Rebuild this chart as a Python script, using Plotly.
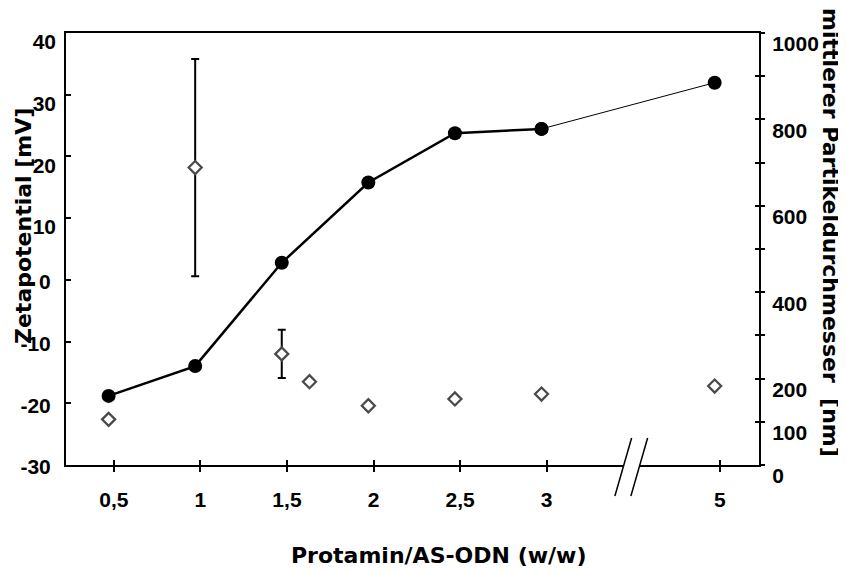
import plotly.graph_objects as go

# ---------------- data ----------------
ratio_nominal = [0.5, 1, 1.5, 2, 2.5, 3, 5]
ratio_labels = ["0,5", "1", "1,5", "2", "2,5", "3", "5"]
size_nm = [160, 229, 468, 654, 768, 778, 885]          # right axis, filled circles

zeta_x = [0.5, 1, 1.5, 1.66, 2, 2.5, 3, 5]
zeta_mv = [-22.6, 18.2, -12.0, -16.5, -20.4, -19.3, -18.5, -17.2]   # left axis, diamonds
zeta_err = [None, 17.6, 3.9, None, None, None, None, None]

left_ticks = [-30, -20, -10, 0, 10, 20, 30, 40]
left_labels = ["-30", "-20", "-10", "0", "10", "20", "30", "40"]
right_ticks = [0, 100, 200, 300, 400, 500, 600, 700, 800, 900, 1000]
right_labels = ["0", "100", "200", "", "400", "", "600", "", "800", "", "1000"]

# ---------------- axis break (values beyond 3 compressed) ----------------
BREAK_AT = 3
def pos(x):
    return x if x <= BREAK_AT else BREAK_AT + (x - BREAK_AT) * 0.5

xp = [pos(v) for v in ratio_nominal]
zp = [pos(v) for v in zeta_x]
XR = [0.254, 4.256]
TICK_SHIFT = 0.03
tick_pos = [p + TICK_SHIFT for p in xp]

# left labels: non-positive ones on the main axis, positive ones on an overlay
neg_vals = [v for v in left_ticks if v <= 0]
neg_text = [t for v, t in zip(left_ticks, left_labels) if v <= 0]
pos_vals = [v for v in left_ticks if v > 0]
pos_text = [t for v, t in zip(left_ticks, left_labels) if v > 0]

# layout geometry (window pixels; the page body has an 8px margin)
OFF = 8
WIN_W, WIN_H = 846, 571
W, H = WIN_W - OFF, WIN_H - OFF
PL, PR, PT, PB = 66, 759, 33, 465        # plot area in window pixels
ML, MT = PL - OFF, PT - OFF
MR, MB = WIN_W - PR, WIN_H - PB
PW, PH = PR - PL, PB - PT

TICKFONT = dict(family="Liberation Sans, Arial, sans-serif", size=21, color="black", weight="bold")
TITLEFONT = dict(family="DejaVu Sans, sans-serif", size=22, color="black", weight="bold")

fig = go.Figure()

# zeta potential (left axis)
fig.add_trace(go.Scatter(
    x=zp, y=zeta_mv, mode="markers", yaxis="y", xaxis="x",
    marker=dict(symbol="diamond", size=10, color="white",
                line=dict(color="#4a4a4a", width=2.3)),
    error_y=dict(type="data", array=zeta_err, visible=True,
                 color="black", thickness=2, width=4),
    showlegend=False, hoverinfo="skip"))

# particle size (right axis): thick segment up to 3, thin segment 3 -> 5
n_thick = sum(1 for v in ratio_nominal if v <= BREAK_AT)
fig.add_trace(go.Scatter(
    x=xp[n_thick - 1:], y=size_nm[n_thick - 1:], mode="lines+markers",
    yaxis="y2", xaxis="x",
    line=dict(color="black", width=1),
    marker=dict(symbol="circle", size=14, color="black"),
    showlegend=False, hoverinfo="skip"))
fig.add_trace(go.Scatter(
    x=xp[:n_thick], y=size_nm[:n_thick], mode="lines+markers",
    yaxis="y2", xaxis="x",
    line=dict(color="black", width=2.5),
    marker=dict(symbol="circle", size=14, color="black"),
    showlegend=False, hoverinfo="skip"))

# invisible helper traces for the overlay axes
for xa, ya, xs, ys in (("x2", "y", xp, size_nm), ("x", "y3", xp, size_nm),
                       ("x", "y4", zp, zeta_mv), ("x", "y5", zp, zeta_mv)):
    fig.add_trace(go.Scatter(x=xs, y=ys, xaxis=xa, yaxis=ya, mode="markers",
                             marker=dict(opacity=0), showlegend=False, hoverinfo="skip"))

common_x = dict(range=XR, tickmode="array", tickvals=tick_pos, automargin=False,
                showgrid=False, zeroline=False, tickcolor="black", tickwidth=2, ticklen=5)

fig.update_layout(
    width=W, height=H,
    margin=dict(l=ML, r=MR, t=MT, b=MB, autoexpand=False),
    paper_bgcolor="white", plot_bgcolor="white",
    xaxis=dict(**common_x, ticktext=ratio_labels, ticks="outside",
               showline=True, linecolor="black", linewidth=2, mirror=True,
               tickfont=TICKFONT, ticklabelstandoff=10),
    xaxis2=dict(**common_x, overlaying="x", anchor="y", side="bottom", matches="x",
                ticks="inside", showticklabels=False, showline=False),
    yaxis=dict(range=[-30, 40], tickmode="array", tickvals=neg_vals,
               ticktext=neg_text, automargin=False,
               ticks="", showline=True, linecolor="black", linewidth=2,
               showgrid=False, zeroline=False, tickfont=TICKFONT,
               ticklabelstandoff=9, ticklabelshift=2),
    yaxis4=dict(range=[-30, 40], tickmode="array", tickvals=pos_vals,
                ticktext=pos_text, overlaying="y", side="left", anchor="x",
                matches="y", ticks="", showline=False, automargin=False,
                showgrid=False, zeroline=False, tickfont=TICKFONT,
                ticklabelstandoff=9, ticklabelshift=9),
    yaxis5=dict(range=[-30, 40], tickmode="array", tickvals=left_ticks,
                overlaying="y", side="left", anchor="x", matches="y",
                ticks="inside", ticklen=5, tickwidth=2, tickcolor="black",
                showline=False, showgrid=False, zeroline=False,
                showticklabels=False, automargin=False),
    yaxis2=dict(range=[0, 1000], tickmode="array", tickvals=right_ticks,
                ticktext=right_labels, overlaying="y", side="right", anchor="x",
                ticks="outside", ticklen=4, tickwidth=2, tickcolor="black",
                showline=True, linecolor="black", linewidth=2, automargin=False,
                showgrid=False, zeroline=False, tickfont=TICKFONT,
                ticklabelstandoff=3, ticklabelshift=11),
    yaxis3=dict(range=[0, 1000], tickmode="array", tickvals=right_ticks,
                overlaying="y", side="right", anchor="x", matches="y2",
                ticks="inside", ticklen=4, tickwidth=2, tickcolor="black",
                showline=False, showgrid=False, zeroline=False,
                showticklabels=False, automargin=False),
)

# axis titles as annotations (positions in window pixels)
def px_to_xd(px):
    return (px - PL) / PW
def px_to_yd(py):
    return (PB - py) / PH

fig.add_annotation(text="Zetapotential [mV]", textangle=-90, showarrow=False,
                   xref="paper", yref="paper", x=px_to_xd(23), y=px_to_yd(226),
                   xanchor="center", yanchor="middle", font=TITLEFONT)
fig.add_annotation(text="mittlerer Partikeldurchmesser \u00a0[nm]", textangle=90,
                   showarrow=False, xref="paper", yref="paper",
                   x=px_to_xd(831), y=px_to_yd(232),
                   xanchor="center", yanchor="middle", font=TITLEFONT)
fig.add_annotation(text="Protamin/AS-ODN (w/w)", showarrow=False,
                   xref="paper", yref="paper", x=px_to_xd(439), y=px_to_yd(555),
                   xanchor="center", yanchor="middle", font=TITLEFONT)

# axis break marks
brk_center = BREAK_AT + 0.522
cxd = (brk_center - XR[0]) / (XR[1] - XR[0])
half_gap = 8 / PW
fig.add_shape(type="line", xref="x domain", yref="y domain",
              x0=cxd - half_gap, x1=cxd + half_gap, y0=0, y1=0,
              line=dict(color="white", width=4), layer="above")
for c in (cxd - half_gap, cxd + half_gap):
    fig.add_shape(type="line", xref="x domain", yref="y domain",
                  x0=c - 9 / PW, y0=-31 / PH, x1=c + 7.7 / PW, y1=27 / PH,
                  line=dict(color="black", width=1.5), layer="above")

fig.write_html("out.html")
